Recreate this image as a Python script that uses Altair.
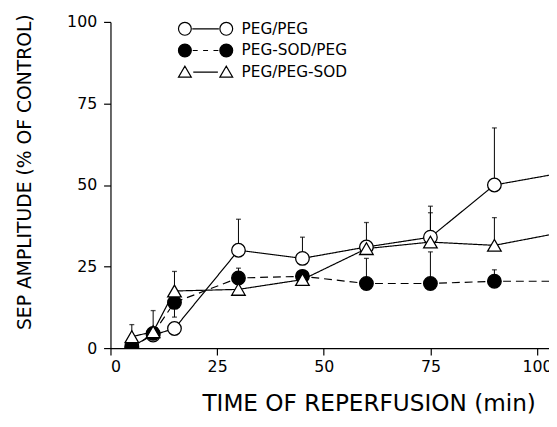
import altair as alt
import pandas as pd

series_names = ["PEG/PEG", "PEG-SOD/PEG", "PEG/PEG-SOD"]
times = [5, 10, 15, 30, 45, 60, 75, 90, 120]
peg_peg = [0.5, 4.0, 6.0, 30.0, 27.5, 31.0, 34.0, 50.0, 57.0]
pegsod_peg = [0.0, 4.5, 14.0, 21.5, 22.0, 19.8, 19.8, 20.5, 20.5]
peg_pegsod = [3.5, 5.0, 17.5, 18.0, 21.0, 30.5, 32.5, 31.5, 39.0]

err_x = [5, 10, 15, 15, 30, 30, 45, 60, 60, 75, 75, 75, 90, 90, 90]
err_from = [3.5, 4.5, 14.0, 14.0, 30.0, 21.5, 27.5, 31.0, 19.8, 34.0, 32.5, 19.8, 50.0, 31.5, 20.5]
err_to = [7.2, 11.5, 23.5, 9.5, 39.5, 24.5, 34.0, 38.5, 27.5, 43.5, 41.5, 29.5, 67.5, 40.0, 24.0]

x_ticks = [0, 25, 50, 75, 100]
y_ticks = [0, 25, 50, 75, 100]

rows = []
for name, vals in zip(series_names, [peg_peg, pegsod_peg, peg_pegsod]):
    for t, v in zip(times, vals):
        rows.append({"series": name, "time": t, "value": v})
df = pd.DataFrame(rows)
err_df = pd.DataFrame({"time": err_x, "from": err_from, "to": err_to})

FONT = "DejaVu Sans"
xs = alt.Scale(domain=[0, 102.8], nice=False, zero=False)
ys = alt.Scale(domain=[0, 100], nice=False)

x_axis = alt.Axis(values=x_ticks, title="TIME OF REPERFUSION (min)", titleFontSize=23.5,
                  titleFontWeight="normal", titleX=262, titleY=63, titleBaseline="alphabetic",
                  titleAlign="center", labelFontSize=16, tickSize=7, labelPadding=4)
y_axis = alt.Axis(values=y_ticks, title="SEP AMPLITUDE (% OF CONTROL)", titleFontSize=19,
                  titleFontWeight="normal", titleX=-87, titleY=152, titleAngle=270,
                  titleBaseline="middle", titleAlign="center", labelFontSize=16,
                  tickSize=7, labelPadding=7)

X = alt.X("time:Q", scale=xs, axis=x_axis)
Y = alt.Y("value:Q", scale=ys, axis=y_axis)

lines = alt.Chart(df).mark_line(clip=True, color="black", strokeWidth=1.2).encode(
    x=X, y=Y,
    detail="series:N",
    strokeDash=alt.StrokeDash("series:N", scale=alt.Scale(domain=series_names, range=[[1, 0], [8, 5], [1, 0]]), legend=None),
)

err_rules = alt.Chart(err_df).mark_rule(color="black", strokeWidth=1).encode(
    x=alt.X("time:Q", scale=xs), y=alt.Y("from:Q", scale=ys), y2="to:Q")
err_caps = alt.Chart(err_df).mark_tick(color="black", orient="horizontal", size=5, thickness=1.3).encode(
    x=alt.X("time:Q", scale=xs), y=alt.Y("to:Q", scale=ys))

points = alt.Chart(df).mark_point(clip=True, stroke="black", strokeWidth=1.3, opacity=1).encode(
    x=X, y=Y,
    shape=alt.Shape("series:N", scale=alt.Scale(domain=series_names, range=["circle", "circle", "triangle-up"]), legend=None),
    fill=alt.Fill("series:N", scale=alt.Scale(domain=series_names, range=["white", "black", "white"]), legend=None),
    size=alt.Size("series:N", scale=alt.Scale(domain=series_names, range=[190, 190, 150]), legend=None),
)

# legend glyph paths: unit = 10 px (symbolSize 400); glyph spans x -1..4.5 units
u = 10.0
r = 6.5 / u
cL = -1 + r
cR = 4.5 - r
def circ(c):
    return f"M{c-r:.3f},0A{r:.3f},{r:.3f} 0 1,0 {c+r:.3f},0A{r:.3f},{r:.3f} 0 1,0 {c-r:.3f},0Z"
def tri(c):
    return f"M{c-r:.3f},{0.5:.3f}L{c+r:.3f},{0.5:.3f}L{c:.3f},{-0.6:.3f}Z"
mid = (cL + cR) / 2
path_open = circ(cL) + f"M{cL+r+0.1:.3f},0L{cR-r-0.1:.3f},0" + circ(cR)
path_fill = circ(cL) + f"M{mid-1.3:.3f},0L{mid-0.8:.3f},0M{mid-0.25:.3f},0L{mid+0.25:.3f},0M{mid+0.8:.3f},0L{mid+1.3:.3f},0" + circ(cR)
path_tri = tri(cL) + f"M{cL+r+0.2:.3f},0L{cR-r-0.2:.3f},0" + tri(cR)

leg = alt.Legend(title=None, orient="none", legendX=68, legendY=-4)
legend_layer = alt.Chart(df).transform_filter("false").transform_calculate(group="datum.series").mark_point(
    strokeWidth=1.2, opacity=1).encode(
    shape=alt.Shape("group:N", scale=alt.Scale(domain=series_names, range=[path_open, path_fill, path_tri]), legend=leg),
    fill=alt.Fill("group:N", scale=alt.Scale(domain=series_names, range=["white", "black", "white"]), legend=leg),
    stroke=alt.Stroke("group:N", scale=alt.Scale(domain=series_names, range=["black", "black", "black"]), legend=leg),
)

chart = alt.layer(lines, err_rules, err_caps, points, legend_layer).resolve_scale(
    shape="independent", fill="independent", stroke="independent"
).properties(
    width=445, height=331,
    autosize=alt.AutoSizeParams(type="none"),
    padding={"left": 104, "top": 11, "right": 0, "bottom": 80},
).configure_view(stroke=None).configure_axis(
    domainColor="black", tickColor="black", labelColor="black", titleColor="black",
    labelFont=FONT, titleFont=FONT, grid=False, domainWidth=1.2, tickWidth=1.2,
).configure_legend(
    labelFont=FONT, labelFontSize=15.5, labelColor="black", symbolSize=400,
    symbolStrokeWidth=1.2, rowPadding=2, labelOffset=43,
)

chart.save("out.html", embed_options={"renderer": "svg", "actions": False})
